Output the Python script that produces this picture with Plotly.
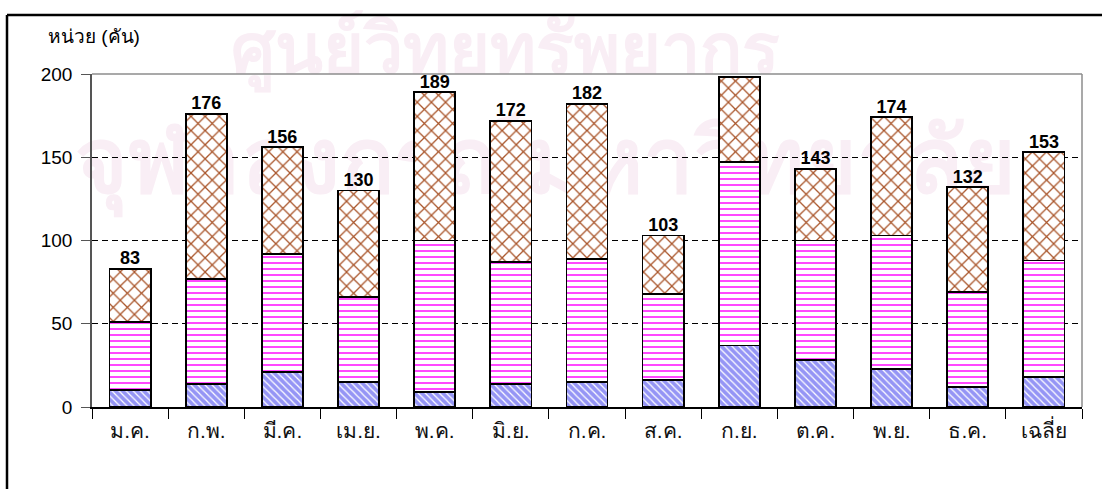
import plotly.graph_objects as go

months = ["ม.ค.", "ก.พ.", "มี.ค.", "เม.ย.", "พ.ค.", "มิ.ย.", "ก.ค.", "ส.ค.", "ก.ย.", "ต.ค.", "พ.ย.", "ธ.ค.", "เฉลี่ย"]
series_blue = [10, 14, 21, 15, 9, 14, 15, 16, 37, 28, 23, 12, 18]
series_pink = [41, 63, 71, 51, 91, 73, 74, 52, 110, 72, 80, 57, 70]
series_brown = [32, 99, 64, 64, 89, 85, 93, 35, 51, 43, 71, 63, 65]
totals = [83, 176, 156, 130, 189, 172, 182, 103, 198, 143, 174, 132, 153]
y_ticks = [0, 50, 100, 150, 200]
y_title = "หน่วย (คัน)"
watermark_1 = "ศูนย์วิทยทรัพยากร"
watermark_2 = "จุฬาลงกรณ์มหาวิทยาลัย"

W, H = 1102, 489
ML, MR, MT, MB = 92, 20, 74, 82
PW, PH = W - ML - MR, H - MT - MB

def px_x(p):
    return (p - ML) / PW

def px_y(p):
    return (H - MB - p) / PH

fig = go.Figure()
line_black = dict(color="black", width=1.8)
fig.add_trace(go.Bar(
    x=months, y=series_blue, showlegend=False,
    marker=dict(color="#9999ff", line=line_black,
                pattern=dict(shape="\\", fgcolor="white", bgcolor="#9595f5",
                             size=5, solidity=0.25, fillmode="replace")),
    hoverinfo="y"))
fig.add_trace(go.Bar(
    x=months, y=series_pink, showlegend=False,
    marker=dict(color="white", line=line_black,
                pattern=dict(shape="-", fgcolor="#ff33ff", bgcolor="white",
                             size=6, solidity=0.3, fillmode="replace")),
    hoverinfo="y"))
fig.add_trace(go.Bar(
    x=months, y=series_brown, showlegend=False,
    marker=dict(color="white", line=line_black,
                pattern=dict(shape="x", fgcolor="#a9552a", bgcolor="white",
                             size=10, solidity=0.24, fillmode="replace")),
    hoverinfo="y"))
fig.add_trace(go.Scatter(
    x=months, y=totals, mode="text", text=[str(t) for t in totals],
    textposition="top center", showlegend=False, hoverinfo="skip",
    textfont=dict(family="Arial, Liberation Sans, sans-serif", size=18, color="black", weight="bold")))

wm_color = "#f9eef5"
shapes = [
    # watermark (below)
    dict(type="rect", xref="paper", yref="paper", layer="below",
         x0=px_x(180), x1=px_x(830), y0=px_y(88), y1=px_y(0),
         line=dict(width=0), fillcolor="rgba(0,0,0,0)",
         label=dict(text=watermark_1, font=dict(size=70, color=wm_color, weight="bold"),
                    textposition="middle center")),
    dict(type="rect", xref="paper", yref="paper", layer="below",
         x0=px_x(80), x1=px_x(1010), y0=px_y(205), y1=px_y(105),
         line=dict(width=0), fillcolor="rgba(0,0,0,0)",
         label=dict(text=watermark_2, font=dict(size=90, color=wm_color, weight="bold"),
                    textposition="middle center")),
    # plot border top/right
    dict(type="line", xref="paper", yref="paper", x0=0, x1=1, y0=1, y1=1,
         line=dict(color="#8c8c8c", width=1.5)),
    dict(type="line", xref="paper", yref="paper", x0=1, x1=1, y0=0, y1=1,
         line=dict(color="#8c8c8c", width=1.5)),
    # outer frame (top + left)
    dict(type="line", xref="paper", yref="paper", x0=px_x(7), x1=px_x(W + 5),
         y0=px_y(15), y1=px_y(15), line=dict(color="black", width=2.5)),
    dict(type="line", xref="paper", yref="paper", x0=px_x(7), x1=px_x(7),
         y0=px_y(15), y1=px_y(H + 5), line=dict(color="black", width=2.5)),
]

fig.update_layout(
    width=W, height=H,
    margin=dict(l=ML, r=MR, t=MT, b=MB, pad=0),
    paper_bgcolor="white", plot_bgcolor="rgba(0,0,0,0)",
    barmode="stack", bargap=0.46,
    font=dict(family="Arial, Liberation Sans, sans-serif", color="black"),
    shapes=shapes,
    annotations=[dict(text=y_title, xref="paper", yref="paper",
                      x=px_x(46), y=px_y(37), xanchor="left", yanchor="middle",
                      showarrow=False, font=dict(size=19, color="black"))],
)
fig.update_xaxes(
    type="category", range=[-0.5, len(months) - 0.5],
    tickson="boundaries", ticks="outside", ticklen=10,
    tickcolor="black", tickwidth=1, showline=True, linecolor="black", linewidth=1.5,
    showgrid=False, tickfont=dict(size=21, color="#111"), ticklabelstandoff=4,
)
fig.update_yaxes(
    range=[0, 200], tickvals=y_ticks, ticks="outside", ticklen=9, tickcolor="#555",
    showline=True, linecolor="#555", linewidth=1.5, zeroline=False,
    showgrid=True, gridcolor="black", gridwidth=1, griddash="6px,4px",
    tickfont=dict(size=19, color="black"), ticklabelstandoff=5,
)

fig.write_html("out.html")
